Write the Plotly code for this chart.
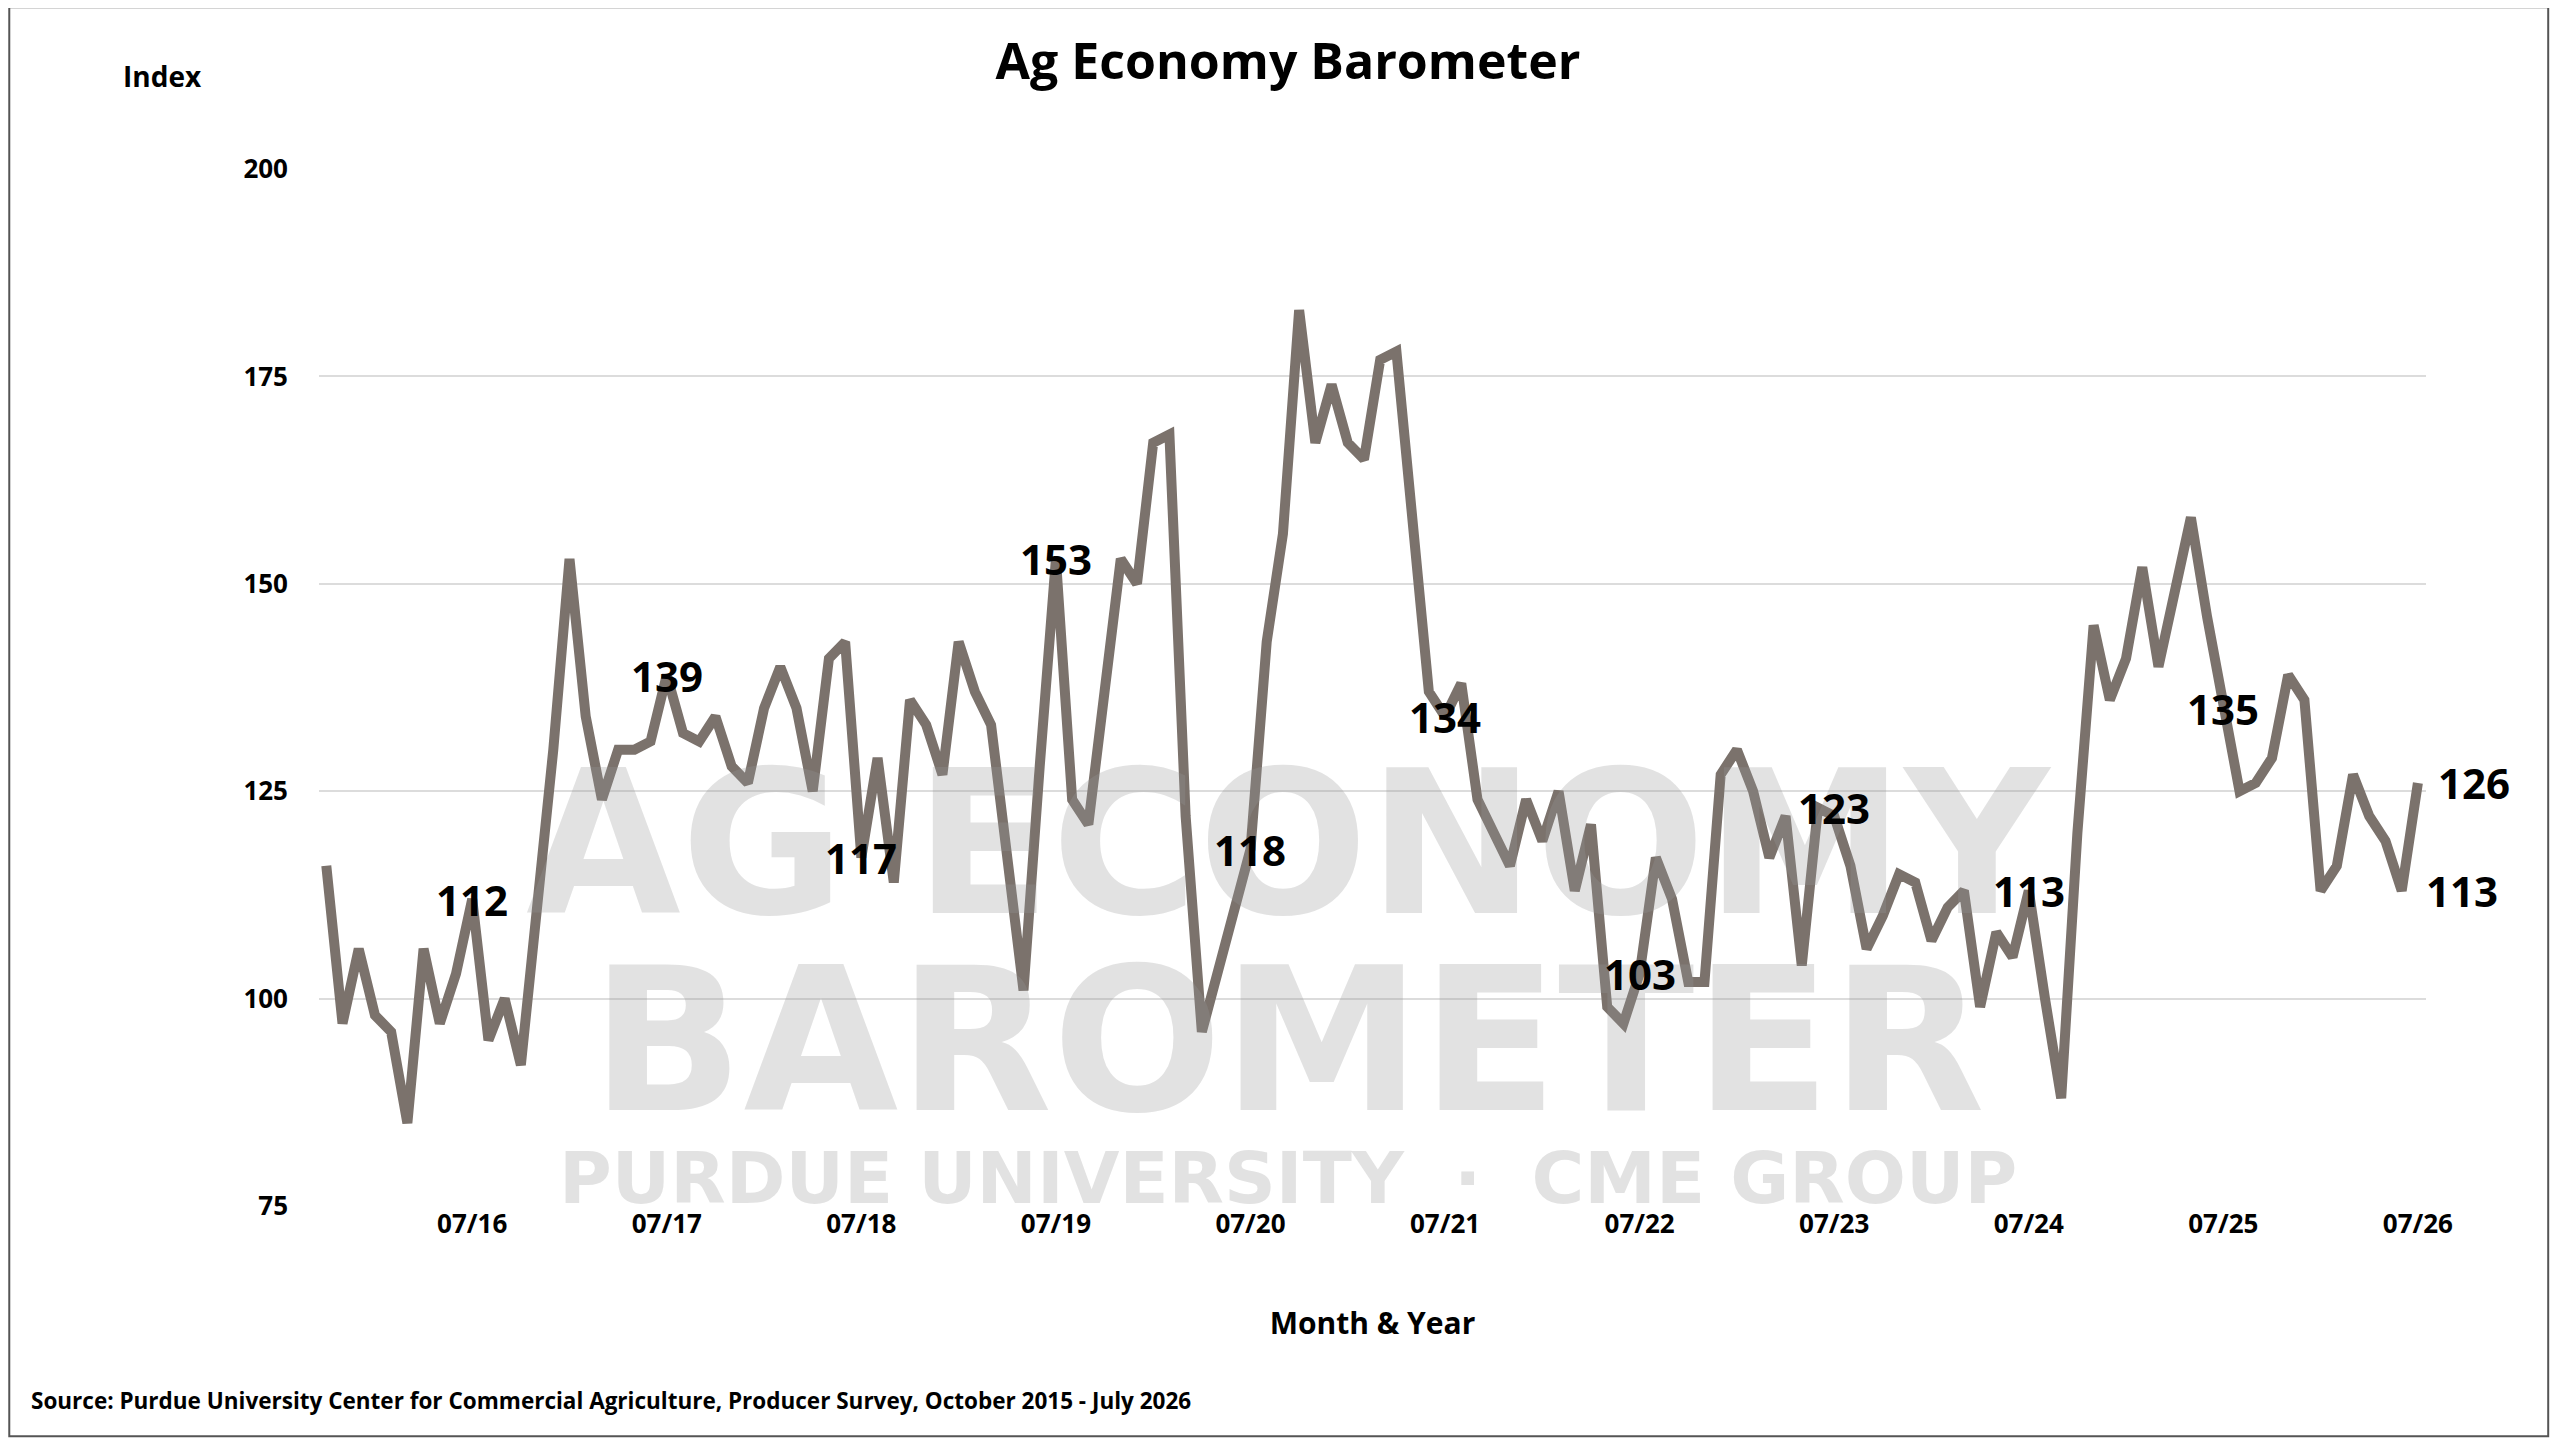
import plotly.graph_objects as go

values = [116,97,106,98,96,85,106,97,103,112,95,100,92,111,130,153,134,124,130,130,
          131,139,132,131,134,128,126,135,140,135,125,141,143,117,129,114,136,133,127,143,
          137,133,118,101,128,153,124,121,137,153,150,167,168,122,96,103,110,118,143,156,
          183,167,174,167,165,177,178,156,137,134,138,124,120,116,124,119,125,113,121,99,
          97,103,117,112,102,102,127,130,125,117,122,104,123,122,116,106,110,115,114,107,
          111,113,99,108,105,113,100,88,120,145,136,141,152,140,149,158,146,135,125,126,
          129,139,136,113,116,127,122,119,113,126]
tick_idx = [9,21,33,45,57,69,81,93,105,117,129]
tick_text = ["07/16","07/17","07/18","07/19","07/20","07/21","07/22","07/23","07/24","07/25","07/26"]
label_idx = [9,21,33,45,57,69,81,92,105,117,128,129]
label_shift = [0,0,0,0,0,0,0,16,0,0,60,56]
x = list(range(len(values)))

fig = go.Figure(go.Scatter(x=x, y=values, mode="lines",
                           line=dict(color="#7b726c", width=10), hoverinfo="skip"))

for wm, y, sz in [("AG ECONOMY", 0.35, 200), ("BAROMETER", 0.16, 200), ("PURDUE UNIVERSITY  ·  CME GROUP", 0.027, 72)]:
    fig.add_annotation(text="<b>" + wm + "</b>", xref="paper", yref="paper", x=0.46, y=y,
                       yanchor="middle", showarrow=False,
                       font=dict(family="DejaVu Sans", size=sz, color="rgba(150,150,150,0.28)"))

for i, s in zip(label_idx, label_shift):
    fig.add_annotation(x=i, y=values[i], text="<b>%d</b>" % values[i], showarrow=False, xshift=s,
                       font=dict(family="Open Sans", size=42, color="black"))

fig.add_annotation(text="<b>Index</b>", xref="paper", yref="paper", x=-0.094, y=1.11,
                   showarrow=False, font=dict(family="Open Sans", size=28, color="black"))
fig.add_annotation(text="<b>Source: Purdue University Center for Commercial Agriculture, Producer Survey, October 2015 - July 2026</b>",
                   xref="paper", yref="paper", x=-0.1376, y=-0.204, xanchor="left", showarrow=False,
                   font=dict(family="Open Sans", size=22.5, color="black"))
fig.add_shape(type="rect", xref="paper", yref="paper", x0=-0.147, x1=1.058, y0=-0.222, y1=1.156,
              line=dict(color="#555", width=2))

fig.update_layout(
    width=2560, height=1442, plot_bgcolor="white", paper_bgcolor="white", showlegend=False,
    margin=dict(l=311, r=142, t=161, b=244),
    title=dict(text="<b>Ag Economy Barometer</b>", x=0.5, y=0.963, xanchor="center", yanchor="middle",
               font=dict(family="Open Sans", size=50, color="black")),
    xaxis=dict(range=[-0.45, 129.5], tickvals=tick_idx, ticktext=tick_text, showgrid=False,
               zeroline=False, showline=False,
               tickfont=dict(family="Open Sans", size=26, color="black", weight="bold"),
               title=dict(text="<b>Month & Year</b>", font=dict(family="Open Sans", size=30, color="black"), standoff=72)),
    yaxis=dict(range=[75, 200], tickvals=[75,100,125,150,175,200], showgrid=True, gridcolor="#dcdcdc",
               gridwidth=2, zeroline=False, ticks="", ticklabelstandoff=30,
               tickfont=dict(family="Open Sans", size=26, color="black", weight="bold")),
)
fig.write_html("out.html")
